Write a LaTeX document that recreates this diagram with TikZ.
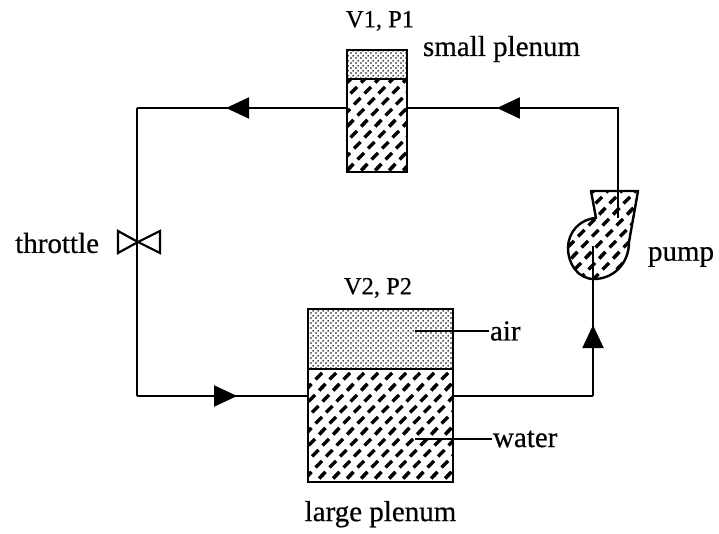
\documentclass[tikz,border=0pt]{standalone}
\usepackage{fontspec}
\setmainfont[FakeBold=0.5]{Liberation Serif}
\usepackage{tikz}
\usetikzlibrary{arrows.meta, patterns, positioning, decorations.markings}

\pgfdeclarepatternformonly{waterhatch}{\pgfqpoint{-2pt}{-2pt}}{\pgfqpoint{16pt}{46pt}}{\pgfqpoint{14pt}{44pt}}{
  \pgfsetlinewidth{3.4pt}
  \pgfpathmoveto{\pgfqpoint{0.5pt}{0.5pt}}\pgfpathlineto{\pgfqpoint{7pt}{7pt}}
  \pgfpathmoveto{\pgfqpoint{11pt}{11.5pt}}\pgfpathlineto{\pgfqpoint{17.5pt}{18pt}}
  \pgfpathmoveto{\pgfqpoint{-3pt}{11.5pt}}\pgfpathlineto{\pgfqpoint{3.5pt}{18pt}}
  \pgfpathmoveto{\pgfqpoint{7.5pt}{22.5pt}}\pgfpathlineto{\pgfqpoint{14pt}{29pt}}
  \pgfpathmoveto{\pgfqpoint{4pt}{33.5pt}}\pgfpathlineto{\pgfqpoint{10.5pt}{40pt}}
  \pgfusepath{stroke}
}
\pgfdeclarepatternformonly{airdots}{\pgfqpoint{0pt}{0pt}}{\pgfqpoint{5pt}{5pt}}{\pgfqpoint{5pt}{5pt}}{
  \pgfpathcircle{\pgfqpoint{1.2pt}{1.2pt}}{1pt}
  \pgfpathcircle{\pgfqpoint{3.7pt}{3.7pt}}{1pt}
  \pgfusepath{fill}
}

\begin{document}
\begin{tikzpicture}[x=1pt,y=-1pt,line width=2pt,node distance=0pt]
    \tikzset{
        every node/.style={font=\fontsize{29}{30}\selectfont, inner sep=0pt},
        air/.style={draw, line width=2.4pt, pattern=airdots, minimum width=#1, outer sep=0pt},
        water/.style={draw, line width=2.4pt, pattern=waterhatch, minimum width=#1, outer sep=0pt},
        small/.style={font=\fontsize{24.5}{26}\selectfont},
        flow/.style={postaction={decorate}, decoration={markings,
            mark=at position #1 with {\arrow{Triangle[length=23pt,width=21pt]}}}}
    }
    \useasboundingbox (0,0) rectangle (719,534);
    % plenums
    \node[air=145pt, minimum height=60pt] (bigair) at (380.5,339) {};
    \node[water=145pt, minimum height=113pt, below=of bigair] (bigwater) {};
    \node[air=60pt, minimum height=29pt] (smallair) at (377,64.5) {};
    \node[water=60pt, minimum height=93pt, below=of smallair] (smallwater) {};
    % pump
    \filldraw[pattern=waterhatch, line width=2.4pt, line join=round]
        (591,191) -- (638,191) -- (629,242) .. controls (629,264) and (613,279) .. (594,279)
        .. controls (578,279) and (568,264) .. (568,248)
        .. controls (568,232) and (580,219) .. (596,218) -- cycle;
    % loop
    \coordinate (smallin) at (407,108);
    \coordinate (smallout) at (347,108);
    \coordinate (bigin) at (308,396);
    \coordinate (bigout) at (453,396);
    \coordinate (pumpin) at (593,246);
    \coordinate (pumpout) at (618,218);
    \coordinate (corner1) at (618,108);
    \coordinate (corner2) at (137,108);
    \coordinate (corner3) at (137,396);
    \coordinate (corner4) at (593,396);
    \draw[flow=0.72] (pumpout) -- (corner1) -- (smallin);
    \draw[flow=0.576] (smallout) -- (corner2);
    \draw (corner2) -- (corner3);
    \draw[flow=0.585] (corner3) -- (bigin);
    \draw (bigout) -- (corner4);
    \draw[flow=0.473] (corner4) -- (pumpin);
    % throttle
    \coordinate (valve) at (138,242);
    \draw[line join=miter, line width=2.2pt] (valve) -- (118,231) -- (118,253) -- (valve) -- (160,231) -- (160,253) -- cycle;
    % labels
    \node[small] (v1) at (380,21) {V1, P1};
    \node[small] (v2) at (378,288) {V2, P2};
    \node[anchor=west] (smalllabel) at (422,49) {small plenum};
    \node[anchor=east] (throttlelabel) at (100,243) {throttle};
    \node[anchor=west] (pumplabel) at (647,257) {pump};
    \node[below=18pt of bigwater] (biglabel) {large plenum};
    \node[anchor=west] (airlabel) at (489,331) {air};
    \node[anchor=west] (waterlabel) at (492,439) {water};
    \coordinate (airend) at (415,331);
    \coordinate (waterend) at (415,439);
    \draw (airend) -- (airlabel);
    \draw (waterend) -- (waterlabel);
\end{tikzpicture}
\end{document}
